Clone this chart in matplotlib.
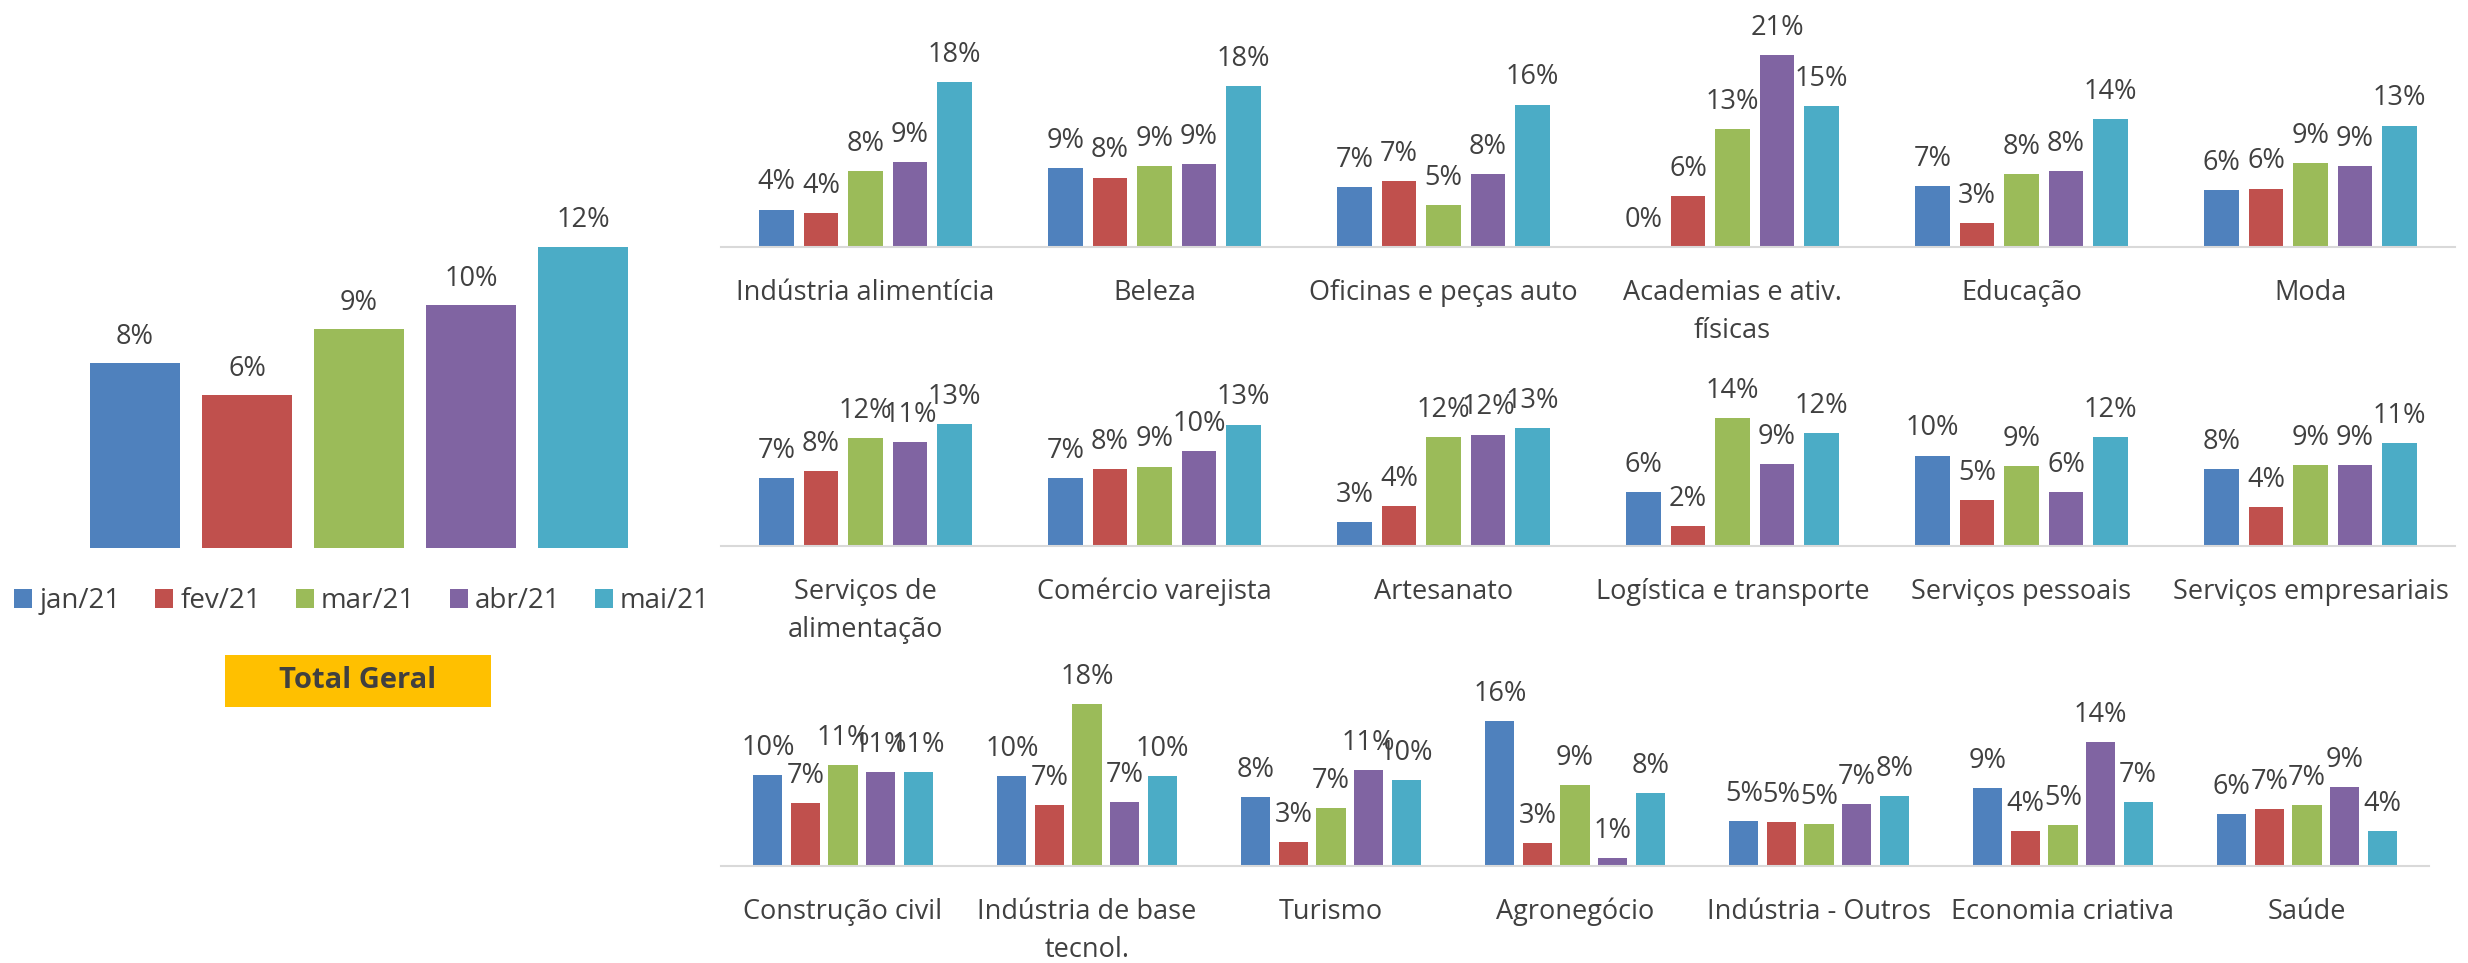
import matplotlib
matplotlib.use("Agg")
import matplotlib.pyplot as plt
from matplotlib.patches import Rectangle

plt.rcParams['font.family'] = ['Open Sans', 'DejaVu Sans']

months = ['jan/21', 'fev/21', 'mar/21', 'abr/21', 'mai/21']
colors = ['#4F81BD', '#C0504D', '#9BBB59', '#8064A2', '#4BACC6']

# Total geral (%)
total = [7.6, 6.3, 9.0, 10.0, 12.4]

row1_cats = ['Indústria alimentícia', 'Beleza', 'Oficinas e peças auto',
             'Academias e ativ.\nfísicas', 'Educação', 'Moda']
row1_vals = [
    [4.1, 3.7, 8.3, 9.3, 18.1],
    [8.6, 7.6, 8.9, 9.1, 17.6],
    [6.6, 7.2, 4.6, 8.0, 15.6],
    [0.0, 5.6, 12.9, 21.0, 15.4],
    [6.7, 2.6, 8.0, 8.3, 14.0],
    [6.2, 6.4, 9.2, 8.9, 13.3],
]

row2_cats = ['Serviços de\nalimentação', 'Comércio varejista', 'Artesanato',
             'Logística e transporte', 'Serviços pessoais', 'Serviços empresariais']
row2_vals = [
    [7.4, 8.2, 11.8, 11.4, 13.4],
    [7.4, 8.4, 8.7, 10.4, 13.3],
    [2.6, 4.4, 11.9, 12.2, 12.9],
    [5.9, 2.2, 14.0, 9.0, 12.4],
    [9.9, 5.0, 8.8, 5.9, 11.9],
    [8.4, 4.3, 8.9, 8.9, 11.3],
]

row3_cats = ['Construção civil', 'Indústria de base\ntecnol.', 'Turismo', 'Agronegócio',
             'Indústria - Outros', 'Economia criativa', 'Saúde']
row3_vals = [
    [10.3, 7.1, 11.4, 10.6, 10.6],
    [10.2, 6.9, 18.4, 7.2, 10.2],
    [7.8, 2.7, 6.6, 10.9, 9.7],
    [16.4, 2.6, 9.2, 0.9, 8.3],
    [5.1, 5.0, 4.8, 7.0, 7.9],
    [8.8, 4.0, 4.6, 14.0, 7.2],
    [5.9, 6.5, 6.9, 8.9, 4.0],
]

TXT = '#404040'
FS = 19.5

W, H = 2468, 963
fig = plt.figure(figsize=(W / 100, H / 100), dpi=100)


def box(left, base, width, height):
    # pixel box -> figure fraction (base = baseline y from top)
    return [left / W, 1 - base / H, width / W, height / H]


def pct(v):
    return f"{int(v + 0.5)}%"


def grouped(ax, cats, vals, ytop):
    n = len(cats)
    for i, grp in enumerate(vals):
        for j, v in enumerate(grp):
            x = i + (j - 2) * 0.154
            ax.bar(x, v, width=0.12, color=colors[j], edgecolor='none')
            ax.annotate(pct(v), (x, v), xytext=(0, 14.5), textcoords='offset points',
                        ha='center', va='baseline', fontsize=FS, color=TXT)
    ax.set_xlim(-0.5, n - 0.5)
    ax.set_ylim(0, ytop)
    ax.set_xticks(range(n))
    ax.set_xticklabels(cats, fontsize=FS, color=TXT, linespacing=1.5)
    ax.tick_params(axis='x', length=0, pad=23)
    ax.set_yticks([])
    ax.patch.set_visible(False)
    for s in ['top', 'left', 'right']:
        ax.spines[s].set_visible(False)
    ax.spines['bottom'].set_color('#D9D9D9')
    ax.spines['bottom'].set_linewidth(1.5)


# left: total geral
ax0 = fig.add_axes(box(79, 548, 560, 340))
for j, v in enumerate(total):
    ax0.bar(j, v, width=0.8, color=colors[j], label=months[j])
    ax0.annotate(pct(v), (j, v), xytext=(0, 14), textcoords='offset points',
                 ha='center', va='baseline', fontsize=FS, color=TXT)
ax0.set_xlim(-0.5, 4.5)
ax0.set_ylim(0, 14)
ax0.axis('off')

fig.legend(loc='center', bbox_to_anchor=(362 / W, 1 - 601 / H), ncol=5, frameon=False,
           fontsize=20, labelcolor=TXT, handlelength=0.65, handleheight=0.65,
           handletextpad=0.25, columnspacing=1.25)

fig.patches.append(Rectangle((225 / W, 1 - 707 / H), 266 / W, 52 / H,
                             transform=fig.transFigure, facecolor='#FFC000',
                             edgecolor='none'))
fig.text(358 / W, 1 - 681 / H, 'Total Geral', ha='center', va='center',
         fontsize=21, fontweight='bold', color=TXT)

# right: sectors
ax1 = fig.add_axes(box(721, 247, 1734, 210))
grouped(ax1, row1_cats, row1_vals, 23)
ax2 = fig.add_axes(box(721, 546, 1734, 210))
grouped(ax2, row2_cats, row2_vals, 23)
ax3 = fig.add_axes(box(721, 866, 1708, 210))
grouped(ax3, row3_cats, row3_vals, 23.8)

fig.savefig('out.png', dpi=100, facecolor='white')
